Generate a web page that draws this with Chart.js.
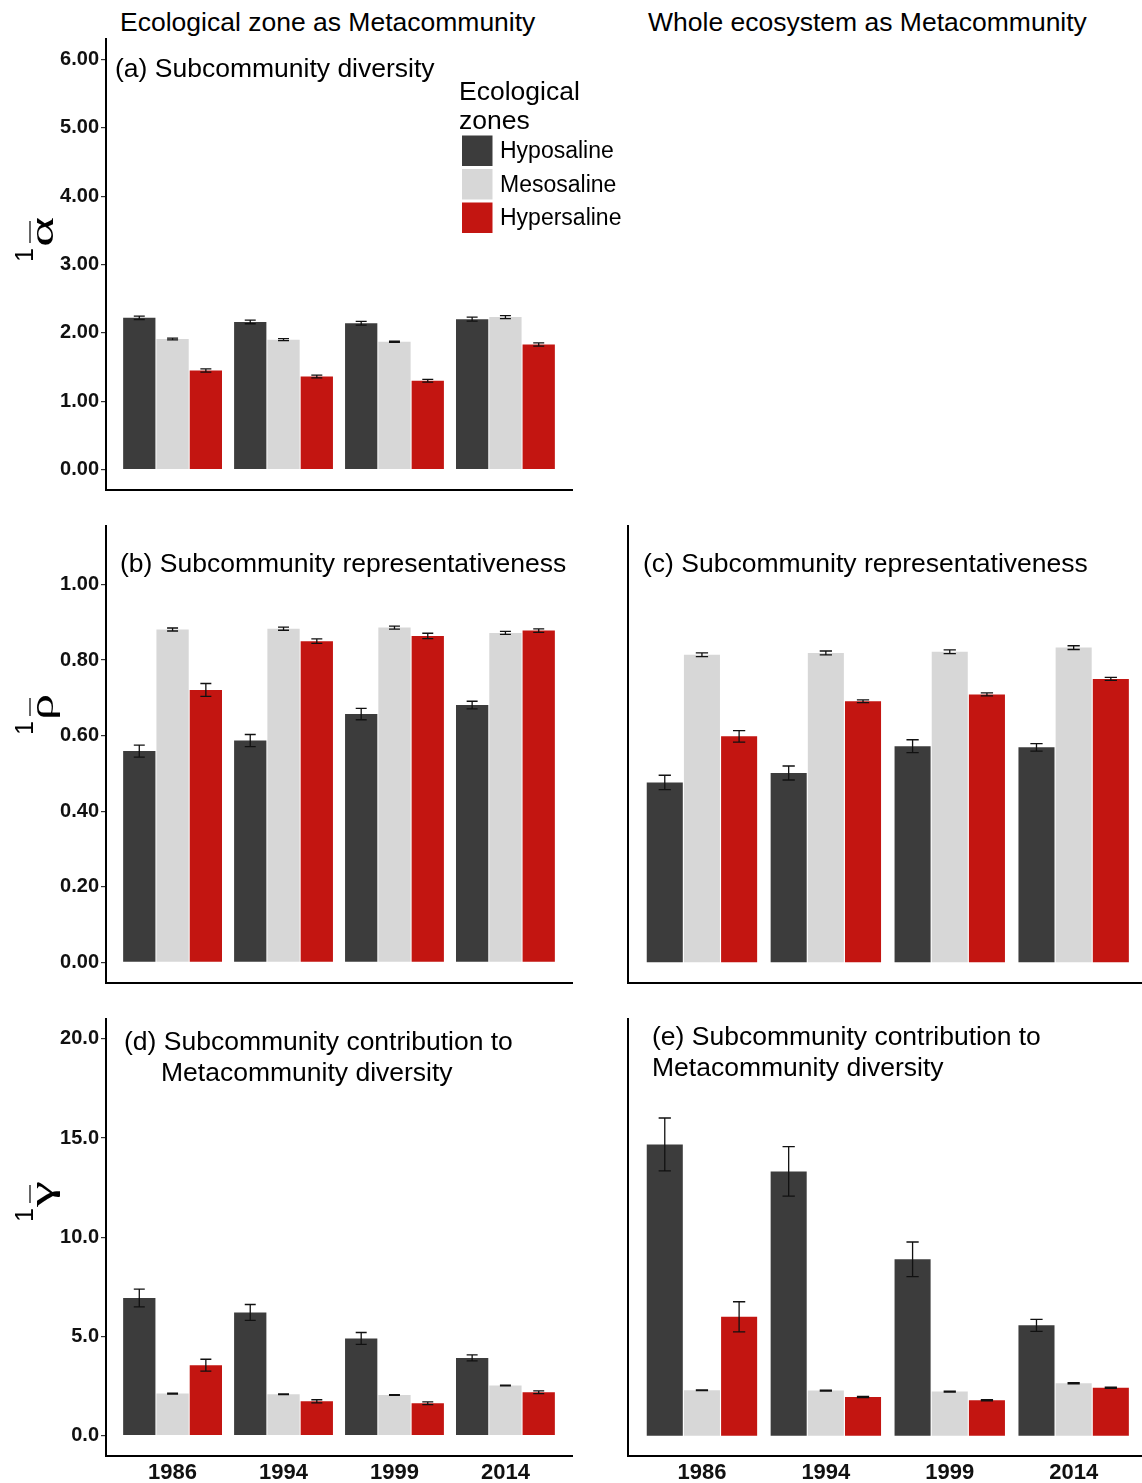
<!DOCTYPE html>
<html>
<head>
<meta charset="utf-8">
<script src="https://cdn.jsdelivr.net/npm/chart.js@4.4.1/dist/chart.umd.min.js"></script>
<style>
  html, body { margin: 0; padding: 0; background: #fff; width: 1142px; height: 1483px; overflow: hidden; }
  canvas { position: absolute; display: block; }
  .coltitle { position: absolute; top: 7px; font-family: "Liberation Sans", Arial, sans-serif; font-size: 26.5px; line-height: 30px; color: #000; white-space: nowrap; }
</style>
</head>
<body>
<div class="coltitle" style="left:120px">Ecological zone as Metacommunity</div>
<div class="coltitle" style="left:648px">Whole ecosystem as Metacommunity</div>

<canvas id="panelA" width="640" height="500" style="left:0;top:0;width:640px;height:500px"></canvas>
<canvas id="panelB" width="600" height="500" style="left:0;top:500px;width:600px;height:500px"></canvas>
<canvas id="panelC" width="548" height="500" style="left:600px;top:500px;width:548px;height:500px"></canvas>
<canvas id="panelD" width="600" height="483" style="left:0;top:1000px;width:600px;height:483px"></canvas>
<canvas id="panelE" width="548" height="483" style="left:600px;top:1000px;width:548px;height:483px"></canvas>

<script>
// ---- data ----------------------------------------------------------------
const years = ['1986', '1994', '1999', '2014'];
const zoneNames = ['Hyposaline', 'Mesosaline', 'Hypersaline'];
const zoneColors = ['#3c3c3c', '#d7d7d7', '#c31511'];

// (a) subcommunity diversity, ecological zone as metacommunity
const alphaHypo  = [2.22, 2.16, 2.14, 2.20];
const alphaMeso  = [1.91, 1.90, 1.87, 2.23];
const alphaHyper = [1.45, 1.36, 1.30, 1.83];
const alphaHypoErr  = [0.025, 0.027, 0.027, 0.030];
const alphaMesoErr  = [0.012, 0.015, 0.010, 0.022];
const alphaHyperErr = [0.024, 0.020, 0.020, 0.024];

// (b) subcommunity representativeness, ecological zone as metacommunity
const rhoZoneHypo  = [0.559, 0.587, 0.657, 0.681];
const rhoZoneMeso  = [0.881, 0.883, 0.886, 0.872];
const rhoZoneHyper = [0.721, 0.850, 0.864, 0.878];
const rhoZoneHypoErr  = [0.016, 0.016, 0.015, 0.010];
const rhoZoneMesoErr  = [0.004, 0.004, 0.004, 0.004];
const rhoZoneHyperErr = [0.017, 0.006, 0.007, 0.0045];

// (c) subcommunity representativeness, whole ecosystem as metacommunity
const rhoWholeHypo  = [0.476, 0.501, 0.572, 0.569];
const rhoWholeMeso  = [0.814, 0.819, 0.822, 0.833];
const rhoWholeHyper = [0.598, 0.691, 0.709, 0.750];
const rhoWholeHypoErr  = [0.019, 0.0185, 0.017, 0.010];
const rhoWholeMesoErr  = [0.005, 0.005, 0.005, 0.005];
const rhoWholeHyperErr = [0.015, 0.0035, 0.004, 0.004];

// (d) contribution to metacommunity diversity, ecological zone as metacommunity
const gammaZoneHypo  = [6.94, 6.21, 4.90, 3.92];
const gammaZoneMeso  = [2.12, 2.09, 2.05, 2.53];
const gammaZoneHyper = [3.55, 1.73, 1.63, 2.19];
const gammaZoneHypoErr  = [0.45, 0.40, 0.30, 0.15];
const gammaZoneMesoErr  = [0.02, 0.02, 0.02, 0.02];
const gammaZoneHyperErr = [0.30, 0.08, 0.07, 0.07];

// (e) contribution to metacommunity diversity, whole ecosystem as metacommunity
const gammaWholeHypo  = [14.68, 13.32, 8.89, 5.56];
const gammaWholeMeso  = [2.29, 2.27, 2.22, 2.64];
const gammaWholeHyper = [5.99, 1.95, 1.78, 2.42];
const gammaWholeHypoErr  = [1.33, 1.25, 0.87, 0.30];
const gammaWholeMesoErr  = [0.02, 0.02, 0.02, 0.03];
const gammaWholeHyperErr = [0.76, 0.03, 0.03, 0.03];

// y-axis tick values
const alphaTicks = [0, 1, 2, 3, 4, 5, 6];
const rhoTicks   = [0, 0.2, 0.4, 0.6, 0.8, 1.0];
const gammaTicks = [0, 5, 10, 15, 20];

// ---- styling -------------------------------------------------------------
const SANS = '"Liberation Sans", Arial, sans-serif';
const SERIF = '"Liberation Serif", "Times New Roman", serif';
Chart.defaults.font.family = SANS;
Chart.defaults.color = '#111';

function zoneDatasets(values, errors) {
  return zoneNames.map((name, k) => ({
    label: name,
    data: values[k].map((v, i) => ({ x: i + 1, y: v })),
    errors: errors[k],
    backgroundColor: zoneColors[k],
    borderWidth: 0,
    categoryPercentage: 0.9,
    barPercentage: 0.97
  }));
}

// error bars: mean +/- error, drawn from the value scale
const errorBars = {
  id: 'errorBars',
  afterDatasetsDraw(chart) {
    const ctx = chart.ctx;
    const yScale = chart.scales.y;
    chart.data.datasets.forEach((ds, i) => {
      const meta = chart.getDatasetMeta(i);
      meta.data.forEach((bar, j) => {
        const v = ds.data[j].y, e = ds.errors[j];
        const top = yScale.getPixelForValue(v + e);
        const bot = yScale.getPixelForValue(v - e);
        const half = bar.width * 0.17;
        ctx.save();
        ctx.strokeStyle = '#111';
        ctx.lineWidth = 1.3;
        ctx.beginPath();
        ctx.moveTo(bar.x, top); ctx.lineTo(bar.x, bot);
        ctx.moveTo(bar.x - half, top); ctx.lineTo(bar.x + half, top);
        ctx.moveTo(bar.x - half, bot); ctx.lineTo(bar.x + half, bot);
        ctx.stroke();
        ctx.restore();
      });
    });
  }
};

// panel captions inside the plotting region
const panelText = {
  id: 'panelText',
  afterDraw(chart, args, o) {
    if (!o.lines) return;
    const ctx = chart.ctx;
    ctx.save();
    ctx.fillStyle = '#000';
    ctx.font = '26.5px ' + SANS;
    ctx.textAlign = 'left';
    ctx.textBaseline = 'alphabetic';
    o.lines.forEach(l => ctx.fillText(l.text, l.x, l.y));
    ctx.restore();
  }
};

// rotated axis symbol: superscript order 1 and a barred greek letter
const axisSymbol = {
  id: 'axisSymbol',
  afterDraw(chart, args, o) {
    if (!o.symbol) return;
    const ctx = chart.ctx;
    ctx.save();
    ctx.translate(o.x, o.y);
    ctx.rotate(-Math.PI / 2);
    ctx.fillStyle = '#000';
    ctx.textAlign = 'left';
    ctx.textBaseline = 'alphabetic';
    ctx.font = '25px ' + SANS;
    ctx.fillText('1', 0, -20);
    const start = ctx.measureText('1').width + 1;
    ctx.font = '34px ' + SERIF;
    const w = ctx.measureText(o.symbol).width;
    const sx = o.width / w;
    ctx.save();
    ctx.translate(start, 0);
    ctx.scale(sx, 1);
    ctx.fillText(o.symbol, 0, 0);
    ctx.restore();
    ctx.strokeStyle = '#000';
    ctx.lineWidth = 1.2;
    ctx.beginPath();
    ctx.moveTo(start + 4, -23);
    ctx.lineTo(start + o.width - 4, -23);
    ctx.stroke();
    ctx.restore();
  }
};

// zone key built from the datasets
const zoneKey = {
  id: 'zoneKey',
  afterDraw(chart, args, o) {
    if (!o.title) return;
    const ctx = chart.ctx;
    ctx.save();
    ctx.fillStyle = '#000';
    ctx.textAlign = 'left';
    ctx.textBaseline = 'alphabetic';
    ctx.font = '26.5px ' + SANS;
    o.title.forEach((t, i) => ctx.fillText(t, o.x - 3, o.titleBaseline + i * o.titleStep));
    chart.data.datasets.forEach((ds, i) => {
      const y = o.top + i * o.step;
      ctx.fillStyle = ds.backgroundColor;
      ctx.fillRect(o.x, y, o.size, o.size);
      ctx.fillStyle = '#000';
      ctx.font = '23px ' + SANS;
      ctx.textBaseline = 'middle';
      ctx.fillText(ds.label, o.x + o.size + 7.5, y + o.size / 2 + 1);
    });
    ctx.restore();
  }
};

function xScale(showLabels, axisHeight) {
  return {
    type: 'linear',
    offset: false,
    min: 0.4,
    max: 4.6,
    afterBuildTicks: ax => { ax.ticks = years.map((_, i) => ({ value: i + 1 })); },
    afterFit: ax => { ax.height = axisHeight; ax.paddingLeft = 0; ax.paddingRight = 0; },
    grid: { display: false, drawTicks: false, offset: false },
    border: { display: true, color: '#000', width: 2 },
    ticks: {
      display: showLabels,
      autoSkip: false,
      maxRotation: 0,
      padding: 4,
      color: '#111',
      font: { family: SANS, size: 22, weight: 'bold' },
      callback: v => years[v - 1]
    }
  };
}

function yScale(min, max, tickValues, digits, showLabels, axisWidth) {
  return {
    type: 'linear',
    min: min,
    max: max,
    afterBuildTicks: ax => { ax.ticks = tickValues.map(v => ({ value: v })); },
    afterFit: ax => { ax.width = axisWidth; ax.paddingTop = 0; ax.paddingBottom = 0; },
    grid: { display: showLabels, drawOnChartArea: false, drawTicks: true, tickLength: 5, color: '#333', lineWidth: 1.2 },
    border: { display: true, color: '#000', width: 2 },
    ticks: {
      display: showLabels,
      padding: 2,
      color: '#111',
      font: { family: SANS, size: 20, weight: 'bold' },
      callback: v => Number(v).toFixed(digits)
    }
  };
}

function makePanel(id, cfg) {
  return new Chart(document.getElementById(id), {
    type: 'bar',
    data: { datasets: cfg.datasets },
    options: {
      responsive: false,
      maintainAspectRatio: false,
      animation: false,
      devicePixelRatio: 1,
      layout: { padding: { top: cfg.padTop, right: cfg.padRight, bottom: 0, left: 0 } },
      scales: { x: cfg.x, y: cfg.y },
      plugins: {
        legend: { display: false },
        tooltip: { enabled: false },
        panelText: { lines: cfg.lines },
        axisSymbol: cfg.symbol || {},
        zoneKey: cfg.key || {}
      }
    },
    plugins: [errorBars, panelText, axisSymbol, zoneKey]
  });
}

// (a)
makePanel('panelA', {
  datasets: zoneDatasets([alphaHypo, alphaMeso, alphaHyper], [alphaHypoErr, alphaMesoErr, alphaHyperErr]),
  padTop: 39, padRight: 68,
  x: xScale(false, 10),
  y: yScale(-0.3, 6.3, alphaTicks, 2, true, 106),
  lines: [{ text: '(a) Subcommunity diversity', x: 115, y: 77 }],
  symbol: { symbol: 'α', x: 53, y: 262, width: 30 },
  key: { title: ['Ecological', 'zones'], x: 462, titleBaseline: 100, titleStep: 29, top: 135.5, step: 33.5, size: 30.5 }
});

// (b)
makePanel('panelB', {
  datasets: zoneDatasets([rhoZoneHypo, rhoZoneMeso, rhoZoneHyper], [rhoZoneHypoErr, rhoZoneMesoErr, rhoZoneHyperErr]),
  padTop: 26, padRight: 28,
  x: xScale(false, 17),
  y: yScale(-0.055, 1.155, rhoTicks, 2, true, 106),
  lines: [{ text: '(b) Subcommunity representativeness', x: 120, y: 71.5 }],
  symbol: { symbol: 'ρ', x: 53, y: 235, width: 26 }
});

// (c)
makePanel('panelC', {
  datasets: zoneDatasets([rhoWholeHypo, rhoWholeMeso, rhoWholeHyper], [rhoWholeHypoErr, rhoWholeMesoErr, rhoWholeHyperErr]),
  padTop: 26, padRight: 0,
  x: xScale(false, 17),
  y: yScale(-0.055, 1.155, rhoTicks, 2, false, 27.6),
  lines: [{ text: '(c) Subcommunity representativeness', x: 43, y: 71.5 }]
});

// (d)
makePanel('panelD', {
  datasets: zoneDatasets([gammaZoneHypo, gammaZoneMeso, gammaZoneHyper], [gammaZoneHypoErr, gammaZoneMesoErr, gammaZoneHyperErr]),
  padTop: 19, padRight: 28,
  x: xScale(true, 27.5),
  y: yScale(-1, 21, gammaTicks, 1, true, 106),
  lines: [
    { text: '(d) Subcommunity contribution to', x: 124, y: 49.5 },
    { text: 'Metacommunity diversity', x: 161, y: 80.5 }
  ],
  symbol: { symbol: 'γ', x: 53, y: 222, width: 26 }
});

// (e)
makePanel('panelE', {
  datasets: zoneDatasets([gammaWholeHypo, gammaWholeMeso, gammaWholeHyper], [gammaWholeHypoErr, gammaWholeMesoErr, gammaWholeHyperErr]),
  padTop: 19, padRight: 0,
  x: xScale(true, 27.5),
  y: yScale(-1, 21, gammaTicks, 1, false, 27.6),
  lines: [
    { text: '(e) Subcommunity contribution to', x: 52, y: 44.5 },
    { text: 'Metacommunity diversity', x: 52, y: 75.5 }
  ]
});
</script>
</body>
</html>
